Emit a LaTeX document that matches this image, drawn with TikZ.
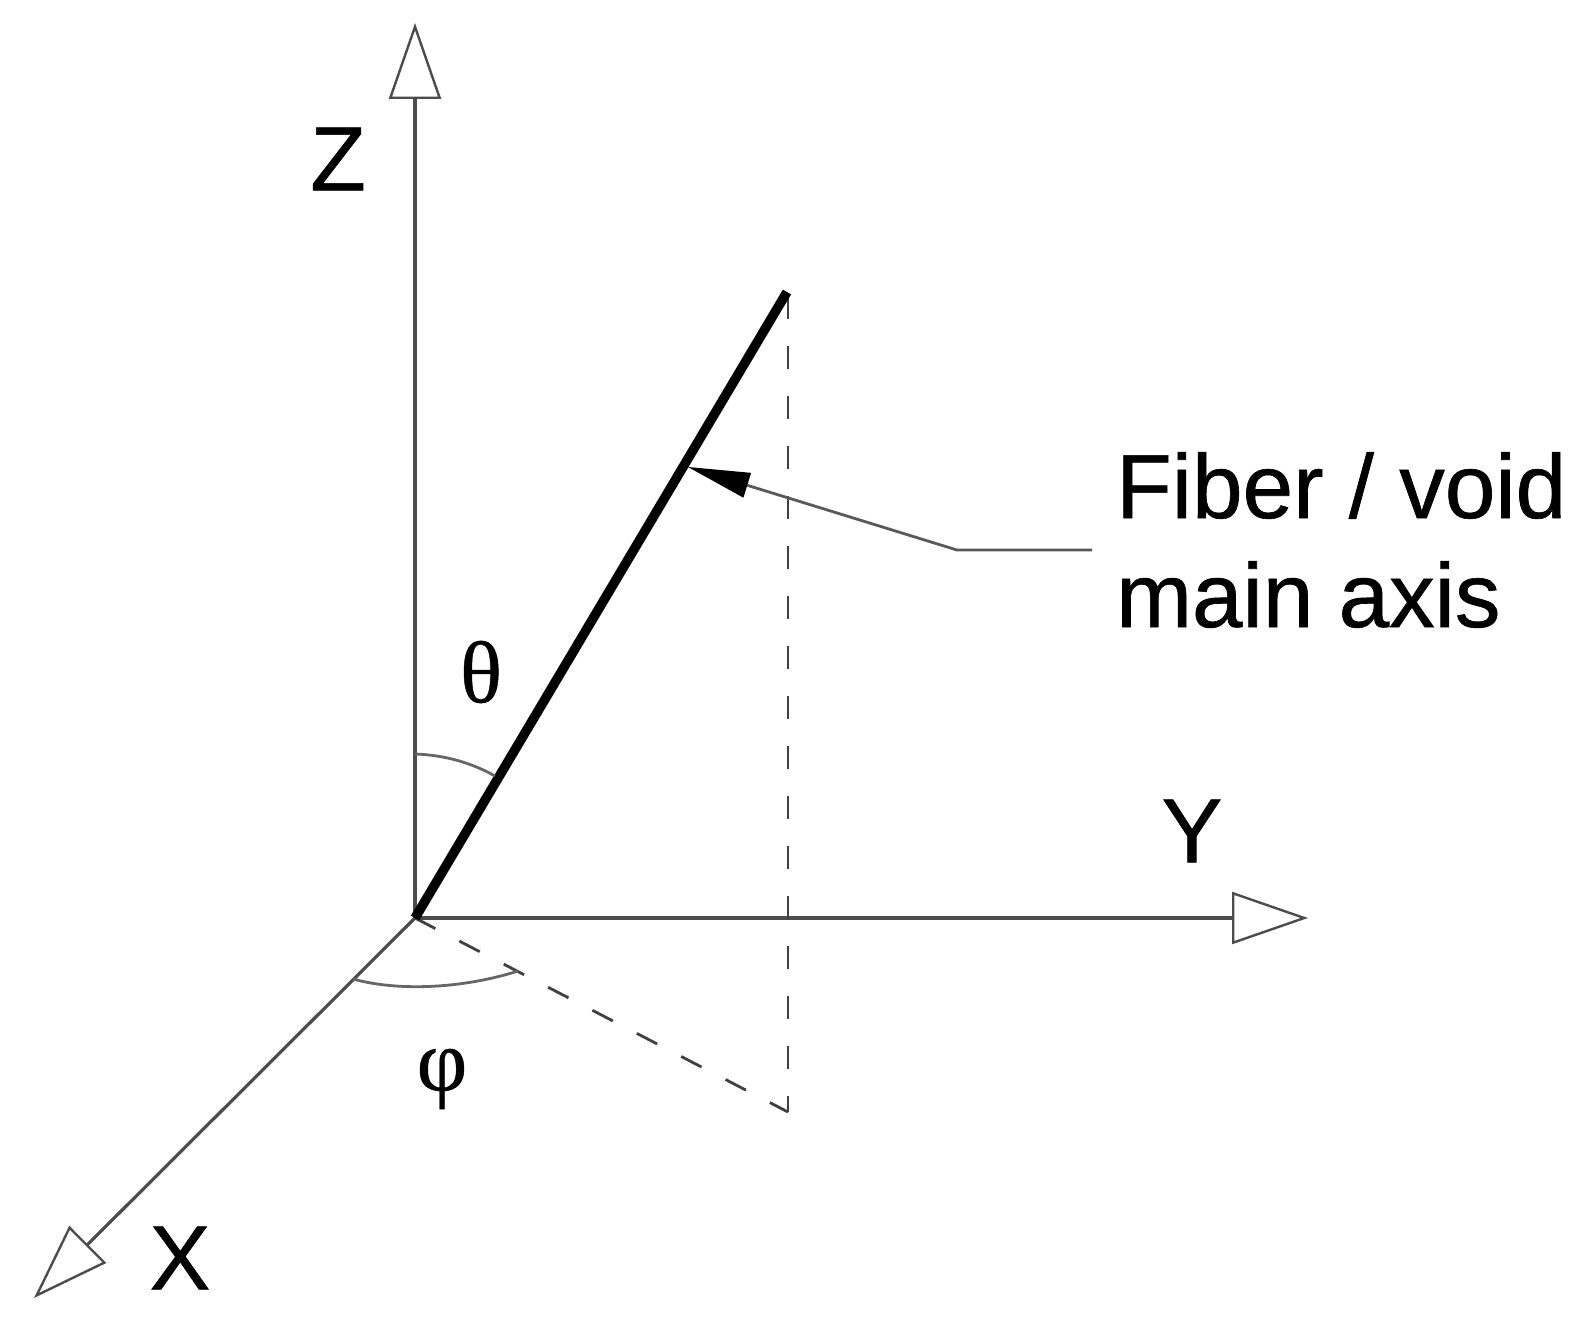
\documentclass[tikz,border=0pt]{standalone}
\usepackage{fontspec}
\setmainfont{Liberation Sans}
\newfontfamily\labelfont[FakeBold=0.7]{Liberation Sans}
\newfontfamily\greekfont[FakeBold=0.5]{Liberation Serif}
\usetikzlibrary{arrows.meta}
\tikzset{
  axisline/.style={draw=black!70, line width=3.2pt},
  axistip/.style={-{Triangle[open, length=76pt, width=52pt, line width=2.4pt]}},
  guideline/.style={draw=black!75, line width=2.8pt, dash pattern=on 23pt off 27pt},
  anglearc/.style={draw=black!60, line width=2.8pt},
  axislabel/.style={inner sep=0pt, font=\fontsize{91}{109}\selectfont\labelfont},
  anglelabel/.style={inner sep=0pt, font=\fontsize{88}{100}\selectfont\greekfont},
}
\begin{document}
\begin{tikzpicture}[x=1pt, y=-1pt]
\useasboundingbox (0,0) rectangle (1582,1319);
% axes
\coordinate (o) at (415,918);
\coordinate (zend) at (415,23);
\coordinate (yend) at (1308,918);
\coordinate (xend) at (34,1298);
\draw[axisline, axistip] (o) -- (zend);
\draw[axisline, axistip] (o) -- (yend);
\draw[axisline, axistip] (o) -- (xend);
% fiber and its projection
\coordinate (top) at (787,292);
\coordinate (foot) at (788,1112);
\draw[guideline] (788,296) -- (foot);
\draw[guideline] (o) -- (foot);
\draw[line width=9.5pt] (o) -- (top);
% angles
\coordinate (th1) at (415,754);
\coordinate (th2) at (495,776);
\coordinate (ph1) at (353,979);
\coordinate (ph2) at (518,971);
\draw[anglearc] (th1) .. controls (445,755) and (472,763) .. (th2);
\draw[anglearc] (ph1) .. controls (400,992) and (465,988) .. (ph2);
% labels
\node[axislabel] (z) at (338,159) {Z};
\node[axislabel] (y) at (1192,831) {Y};
\node[axislabel] (x) at (180,1258) {X};
\node[anglelabel] (theta) at (481,672) {θ};
\node[anglelabel] (phi) at (442,1079) {φ};
\node[axislabel, anchor=west, align=left] (fiber) at (1116,540) {Fiber / void\\main axis};
% leader
\coordinate (lead1) at (1092,550);
\coordinate (lead2) at (957,550);
\coordinate (lead3) at (688,467);
\draw[draw=black!65, line width=2.8pt, -{Triangle[length=62pt, width=26pt, fill=black, line width=0pt]}] (lead1) -- (lead2) -- (lead3);
\end{tikzpicture}
\end{document}
